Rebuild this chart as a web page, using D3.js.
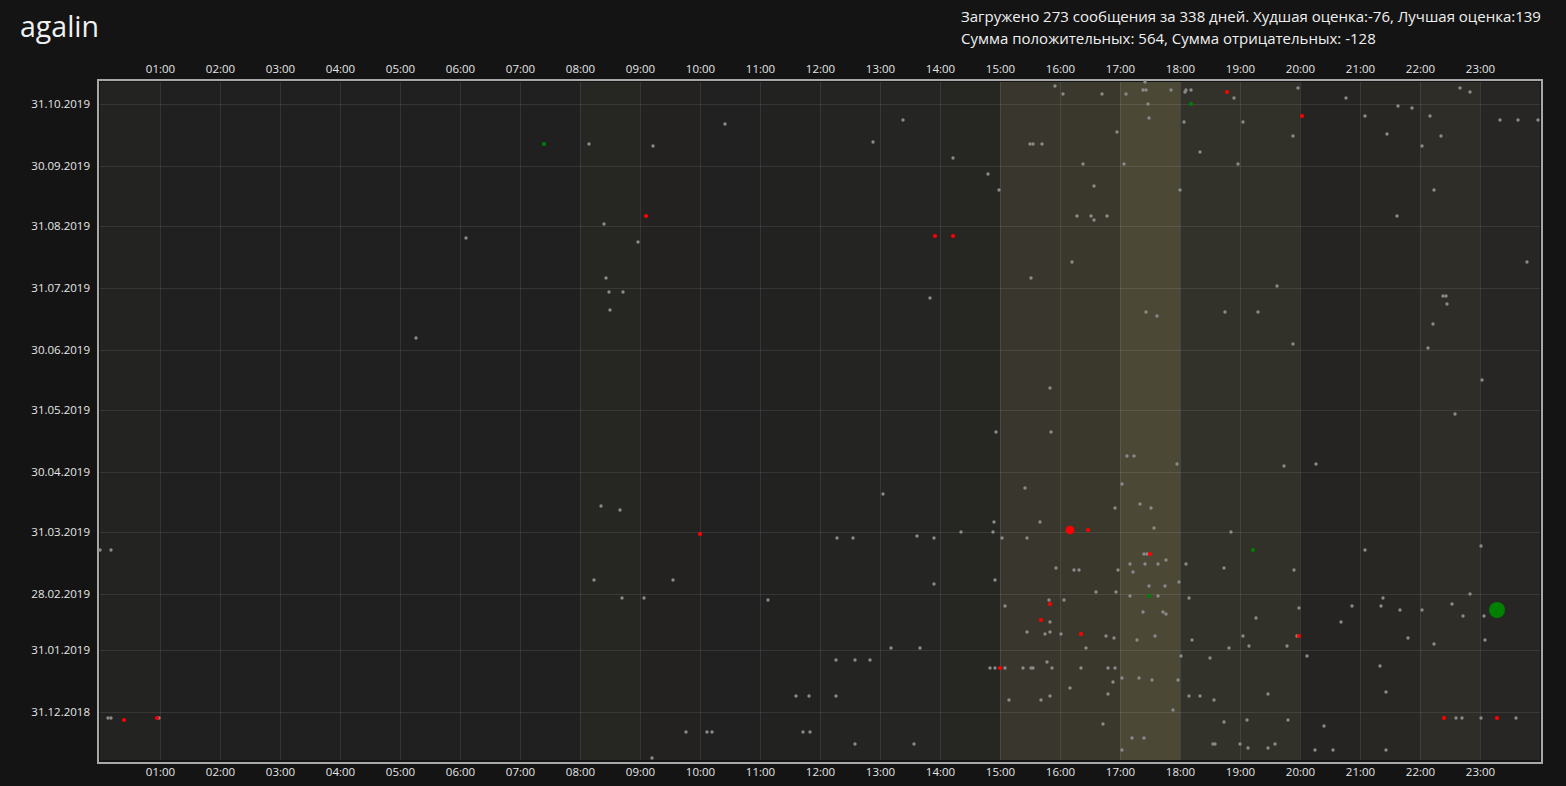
<!DOCTYPE html>
<html>
  <head>
    <meta charset="utf-8" />
    <title>agalin</title>
    <style>
      body,
      html {
        margin: 0;
        padding: 0;
        background: #141414;
        overflow: hidden;
      }
      text {
        font-family: 'Open Sans', 'Noto Sans', sans-serif;
      }
    </style>
  </head>
  <body>
    <script src="https://cdn.jsdelivr.net/npm/d3@7"></script>
    <script>
      const title = 'agalin';
      const summary = [
        'Загружено 273 сообщения за 338 дней. Худшая оценка:-76, Лучшая оценка:139',
        'Сумма положительных: 564, Сумма отрицательных: -128',
      ];

      const hourLabels = ['01:00', '02:00', '03:00', '04:00', '05:00', '06:00', '07:00', '08:00',
        '09:00', '10:00', '11:00', '12:00', '13:00', '14:00', '15:00', '16:00', '17:00', '18:00',
        '19:00', '20:00', '21:00', '22:00', '23:00'];
      const dateLabels = ['31.12.2018', '31.01.2019', '28.02.2019', '31.03.2019', '30.04.2019',
        '31.05.2019', '30.06.2019', '31.07.2019', '31.08.2019', '30.09.2019', '31.10.2019'];

      // one entry per message: day, time of day, score
      const dates = [
        '2019-03-22', '2019-03-22', '2018-12-28', '2018-12-28', '2018-12-27', '2018-12-28', '2018-12-28', '2019-07-06',
        '2019-08-25', '2019-10-11', '2019-10-11', '2019-10-10', '2019-10-21', '2019-10-12', '2019-10-23', '2019-10-04',
        '2019-09-26', '2019-09-18', '2019-09-05', '2019-09-01', '2019-08-23', '2019-08-26', '2019-08-26', '2019-08-05',
        '2019-07-29', '2019-07-29', '2019-07-20', '2019-07-26', '2019-05-20', '2019-04-19', '2019-04-05', '2019-03-31',
        '2019-04-13', '2019-04-11', '2019-03-30', '2019-03-28', '2019-03-28', '2019-03-29', '2019-03-28', '2019-03-31',
        '2019-03-07', '2019-03-07', '2019-03-05', '2019-03-07', '2019-02-26', '2019-02-26', '2019-02-25', '2019-02-01',
        '2019-02-01', '2019-01-26', '2019-01-26', '2019-01-26', '2019-01-22', '2019-01-22', '2019-01-22', '2019-01-08',
        '2019-01-08', '2019-01-08', '2018-12-21', '2018-12-21', '2018-12-21', '2018-12-21', '2018-12-21', '2018-12-15',
        '2018-12-15', '2018-12-08', '2019-11-09', '2019-11-11', '2019-11-05', '2019-11-05', '2019-11-05', '2019-11-07',
        '2019-11-07', '2019-11-07', '2019-11-06', '2019-11-07', '2019-11-07', '2019-11-06', '2019-11-03', '2019-10-31',
        '2019-10-31', '2019-10-24', '2019-10-22', '2019-10-22', '2019-10-17', '2019-10-11', '2019-10-11', '2019-10-11',
        '2019-10-07', '2019-10-01', '2019-10-01', '2019-10-01', '2019-09-20', '2019-09-18', '2019-09-05', '2019-09-05',
        '2019-09-03', '2019-09-05', '2019-08-13', '2019-08-05', '2019-07-19', '2019-07-17', '2019-07-19', '2019-07-19',
        '2019-06-11', '2019-05-20', '2019-05-08', '2019-05-08', '2019-05-04', '2019-04-22', '2019-04-24', '2019-04-12',
        '2019-04-14', '2019-04-12', '2019-04-05', '2019-04-01', '2019-04-01', '2019-04-02', '2019-03-28', '2019-03-28',
        '2019-03-31', '2019-03-22', '2019-03-20', '2019-03-20', '2019-03-20', '2019-03-17', '2019-03-15', '2019-03-15',
        '2019-03-15', '2019-03-15', '2019-03-13', '2019-03-13', '2019-03-12', '2019-03-12', '2019-03-12', '2019-03-11',
        '2019-03-04', '2019-03-04', '2019-03-06', '2019-03-01', '2019-03-01', '2019-02-27', '2019-02-27', '2019-02-27',
        '2019-02-26', '2019-02-25', '2019-02-23', '2019-02-25', '2019-02-22', '2019-02-19', '2019-02-19', '2019-02-18',
        '2019-02-16', '2019-02-15', '2019-02-14', '2019-02-09', '2019-02-08', '2019-02-09', '2019-02-08', '2019-02-08',
        '2019-02-07', '2019-02-06', '2019-02-05', '2019-02-07', '2019-02-05', '2019-02-07', '2019-02-02', '2019-02-01',
        '2019-02-01', '2019-01-28', '2019-01-27', '2019-01-25', '2019-01-22', '2019-01-22', '2019-01-22', '2019-01-22',
        '2019-01-22', '2019-01-22', '2019-01-22', '2019-01-22', '2019-01-15', '2019-01-17', '2019-01-17', '2019-01-16',
        '2019-01-16', '2019-01-12', '2019-01-09', '2019-01-06', '2019-01-06', '2019-01-08', '2019-01-08', '2019-01-08',
        '2019-01-06', '2019-01-01', '2018-12-25', '2018-12-26', '2018-12-27', '2018-12-18', '2018-12-18', '2018-12-12',
        '2018-12-15', '2018-12-15', '2018-12-15', '2018-12-13', '2019-11-08', '2019-11-03', '2019-11-08', '2019-11-06',
        '2019-10-30', '2019-10-29', '2019-10-25', '2019-10-25', '2019-10-25', '2019-10-23', '2019-10-23', '2019-10-23',
        '2019-10-15', '2019-10-16', '2019-10-15', '2019-10-10', '2019-09-18', '2019-09-05', '2019-08-13', '2019-08-01',
        '2019-07-27', '2019-07-27', '2019-07-23', '2019-07-13', '2019-07-03', '2019-07-01', '2019-06-15', '2019-05-29',
        '2019-05-03', '2019-05-04', '2019-03-22', '2019-03-24', '2019-03-12', '2019-02-26', '2019-02-28', '2019-02-21',
        '2019-02-22', '2019-02-22', '2019-02-20', '2019-02-20', '2019-02-23', '2019-02-20', '2019-02-17', '2019-02-17',
        '2019-02-14', '2019-02-07', '2019-02-07', '2019-02-02', '2019-02-06', '2019-02-03', '2019-02-05', '2019-01-28',
        '2019-01-23', '2019-01-09', '2019-01-10', '2018-12-27', '2018-12-24', '2018-12-28', '2018-12-28', '2018-12-28',
        '2018-12-28', '2018-12-28', '2018-12-28', '2018-12-13', '2018-12-15', '2018-12-12', '2018-12-12', '2018-12-12',
      ];
      const times = [
        '00:00', '00:11', '00:08', '00:11', '00:24', '00:57', '00:59', '05:16',
        '06:06', '07:24', '08:09', '09:13', '10:25', '12:53', '13:23', '14:13',
        '14:48', '14:59', '09:06', '08:24', '08:58', '13:55', '14:13', '08:26',
        '08:29', '08:43', '08:30', '13:50', '14:56', '13:03', '14:54', '14:53',
        '08:21', '08:40', '10:00', '12:17', '12:33', '13:37', '13:54', '14:21',
        '08:14', '09:33', '13:54', '14:55', '08:42', '09:04', '11:08', '13:11',
        '13:40', '12:16', '12:35', '12:50', '14:50', '14:55', '15:00', '11:36',
        '11:49', '12:16', '09:46', '10:07', '10:12', '11:43', '11:50', '12:35',
        '13:34', '09:12', '15:55', '17:25', '16:03', '16:42', '17:06', '17:23',
        '17:26', '17:51', '18:05', '18:06', '18:11', '18:47', '18:54', '17:28',
        '18:11', '17:29', '18:04', '19:03', '16:57', '15:30', '15:33', '15:42',
        '18:20', '16:23', '17:04', '18:58', '16:34', '18:00', '16:17', '16:31',
        '16:34', '16:47', '16:12', '15:31', '17:26', '17:37', '18:45', '19:18',
        '15:50', '15:51', '17:07', '17:14', '17:57', '15:25', '17:02', '16:55',
        '17:20', '17:31', '15:40', '16:10', '16:28', '17:34', '15:02', '15:27',
        '18:51', '19:13', '17:24', '17:27', '17:30', '17:46', '17:10', '17:25',
        '17:38', '18:06', '18:44', '15:56', '16:14', '16:19', '16:58', '17:13',
        '17:29', '17:45', '17:59', '16:36', '16:56', '17:10', '17:29', '17:38',
        '18:09', '15:49', '15:50', '16:04', '15:05', '17:23', '17:43', '17:46',
        '19:16', '15:41', '15:50', '15:27', '15:45', '15:50', '16:01', '16:21',
        '16:46', '16:54', '17:17', '17:35', '18:12', '19:03', '19:09', '18:49',
        '16:26', '18:01', '18:30', '15:47', '15:05', '15:23', '15:31', '15:33',
        '15:52', '16:21', '16:48', '16:55', '16:53', '17:02', '17:19', '17:32',
        '17:58', '16:10', '16:48', '15:09', '15:41', '15:50', '18:09', '18:20',
        '18:34', '17:53', '16:43', '18:44', '19:07', '17:12', '17:24', '17:02',
        '18:33', '18:35', '19:00', '19:08', '19:58', '20:46', '22:40', '22:50',
        '21:38', '21:52', '20:02', '21:05', '22:10', '23:20', '23:38', '23:58',
        '19:53', '21:27', '22:21', '22:02', '22:14', '21:37', '23:47', '19:37',
        '22:23', '22:26', '22:27', '22:13', '19:53', '22:08', '23:02', '22:35',
        '19:44', '20:16', '21:05', '23:01', '19:54', '21:23', '22:50', '19:59',
        '20:52', '21:21', '21:40', '22:02', '22:32', '23:17', '22:43', '23:04',
        '20:41', '19:57', '19:59', '19:47', '21:48', '22:14', '23:05', '20:07',
        '21:20', '19:28', '21:26', '19:48', '20:24', '22:24', '22:36', '22:42',
        '23:01', '23:17', '23:36', '19:28', '19:35', '20:15', '20:33', '21:26',
      ];
      const scores = [
        1, 1, 1, 1, -3, -3, 1, 1,
        1, 8, 1, 1, 1, 1, 1, 1,
        1, 1, -3, 1, 1, -3, -3, 1,
        1, 1, 1, 1, 1, 1, 1, 1,
        1, 1, -3, 1, 1, 1, 1, 1,
        1, 1, 1, 1, 1, 1, 1, 1,
        1, 1, 1, 1, 1, 1, -3, 1,
        1, 1, 1, 1, 1, 1, 1, 1,
        1, 1, 1, 1, 1, 1, 1, 1,
        1, 1, 1, 1, 1, -3, 1, 1,
        8, 1, 1, 1, 1, 1, 1, 1,
        1, 1, 1, 1, 1, 1, 1, 1,
        1, 1, 1, 1, 1, 1, 1, 1,
        1, 1, 1, 1, 1, 1, 1, 1,
        1, 1, 1, -76, -4, 1, 1, 1,
        1, 8, 1, 1, -3, 1, 1, 1,
        1, 1, 1, 1, 1, 1, 1, 1,
        1, 1, 1, 1, 1, 1, 8, 1,
        1, 1, -3, 1, 1, 1, 1, 1,
        1, -3, 1, 1, 1, 1, 1, -3,
        1, 1, 1, 1, 1, 1, 1, 1,
        1, 1, 1, 1, 1, 1, 1, 1,
        1, 1, 1, 1, 1, 1, 1, 1,
        1, 1, 1, 1, 1, 1, 1, 1,
        1, 1, 1, 1, 1, 1, 1, 1,
        1, 1, 1, 1, 1, 1, 1, 1,
        1, 1, -3, 1, 1, 1, 1, 1,
        1, 1, 1, 1, 1, 1, 1, 1,
        1, 1, 1, 1, 1, 1, 1, 1,
        1, 1, 1, 1, 1, 1, 1, 1,
        1, 1, 1, 1, 1, 139, 1, 1,
        1, 1, -3, 1, 1, 1, 1, 1,
        1, 1, 1, 1, 1, -3, 1, 1,
        1, -3, 1, 1, 1, 1, 1, 1,
      ];

      const width = 1566;
      const height = 786;
      const plot = { left: 100, top: 82, right: 1540, bottom: 760 };

      const parseDay = d3.timeParse('%Y-%m-%d');
      const parseLabel = d3.timeParse('%d.%m.%Y');
      const toHours = (t) => {
        const [h, m] = t.split(':').map(Number);
        return h + m / 60;
      };

      const messages = dates.map((d, i) => ({
        day: parseDay(d),
        hour: toHours(times[i]),
        score: scores[i],
      }));

      const svg = d3
        .select('body')
        .append('svg')
        .attr('width', width)
        .attr('height', height);

      const x = d3.scaleLinear().domain([0, 24]).range([plot.left, plot.right]);
      const y = d3
        .scaleTime()
        .domain([parseDay('2018-12-07'), parseDay('2019-11-11')])
        .range([plot.bottom, plot.top]);

      // messages per hour tint the columns
      const perHour = d3.rollup(messages, (v) => v.length, (d) => Math.floor(d.hour));
      const maxCount = d3.max(perHour.values());
      const tint = d3.interpolateRgb('#202020', '#4b4836');
      const shade = d3.scalePow().exponent(1.4).domain([0, maxCount]).range([0, 1]);

      svg
        .append('g')
        .selectAll('rect')
        .data(d3.range(24))
        .join('rect')
        .attr('x', (h) => x(h))
        .attr('y', plot.top)
        .attr('width', (h) => x(h + 1) - x(h))
        .attr('height', plot.bottom - plot.top)
        .attr('fill', (h) => tint(shade(perHour.get(h) || 0)));

      const hourTicks = hourLabels.map(toHours);
      const dateTicks = dateLabels.map(parseLabel);

      // grid
      const grid = svg.append('g').attr('stroke', 'rgba(255,255,255,0.09)').attr('stroke-width', 1);
      grid
        .selectAll('line.v')
        .data(hourTicks)
        .join('line')
        .attr('class', 'v')
        .attr('x1', (d) => Math.round(x(d)) + 0.5)
        .attr('x2', (d) => Math.round(x(d)) + 0.5)
        .attr('y1', plot.top)
        .attr('y2', plot.bottom);
      grid
        .selectAll('line.h')
        .data(dateTicks)
        .join('line')
        .attr('class', 'h')
        .attr('x1', plot.left)
        .attr('x2', plot.right)
        .attr('y1', (d) => Math.round(y(d)) + 0.5)
        .attr('y2', (d) => Math.round(y(d)) + 0.5);

      // frame
      svg
        .append('rect')
        .attr('x', 98)
        .attr('y', 80)
        .attr('width', 1444)
        .attr('height', 683)
        .attr('fill', 'none')
        .attr('stroke', '#a8a8a8')
        .attr('stroke-width', 2);

      // axes
      const styleAxis = (g) => {
        g.select('.domain').remove();
        g.selectAll('line').remove();
        g.selectAll('text').attr('fill', '#e6e6e6').style('font-size', '11.5px');
      };
      const hourFormat = (d) => hourLabels[hourTicks.indexOf(d)];

      svg
        .append('g')
        .attr('transform', `translate(0,${plot.top})`)
        .call(d3.axisTop(x).tickValues(hourTicks).tickFormat(hourFormat).tickSize(0).tickPadding(9))
        .call(styleAxis);
      svg
        .append('g')
        .attr('transform', `translate(0,${plot.bottom})`)
        .call(d3.axisBottom(x).tickValues(hourTicks).tickFormat(hourFormat).tickSize(0).tickPadding(8))
        .call(styleAxis);
      svg
        .append('g')
        .attr('transform', `translate(${plot.left},0)`)
        .call(
          d3
            .axisLeft(y)
            .tickValues(dateTicks)
            .tickFormat(d3.timeFormat('%d.%m.%Y'))
            .tickSize(0)
            .tickPadding(10)
        )
        .call(styleAxis);

      // messages: colour by sign, size by strength
      const radius = d3.scaleLinear().domain([0, 139]).range([0, 8]);
      const colour = (s) => (s <= -2 ? '#ff0000' : s >= 5 ? '#008000' : '#8a8a8a');

      svg
        .append('g')
        .selectAll('circle')
        .data(messages.slice().sort((a, b) => Math.abs(a.score) - Math.abs(b.score)))
        .join('circle')
        .attr('cx', (d) => x(d.hour))
        .attr('cy', (d) => y(d.day))
        .attr('r', (d) => Math.max(Math.abs(d.score) >= 2 ? 2.1 : 1.7, radius(Math.abs(d.score))))
        .attr('fill', (d) => colour(d.score));

      // texts
      svg
        .append('text')
        .attr('x', 20)
        .attr('y', 37)
        .attr('fill', '#f0f0f0')
        .style('font-size', '28.5px')
        .text(title);

      svg
        .append('g')
        .selectAll('text')
        .data(summary)
        .join('text')
        .attr('x', 961)
        .attr('y', (d, i) => 22 + i * 22)
        .attr('fill', '#f0f0f0')
        .style('font-size', '15px')
        .text((d) => d);
    </script>
  </body>
</html>
